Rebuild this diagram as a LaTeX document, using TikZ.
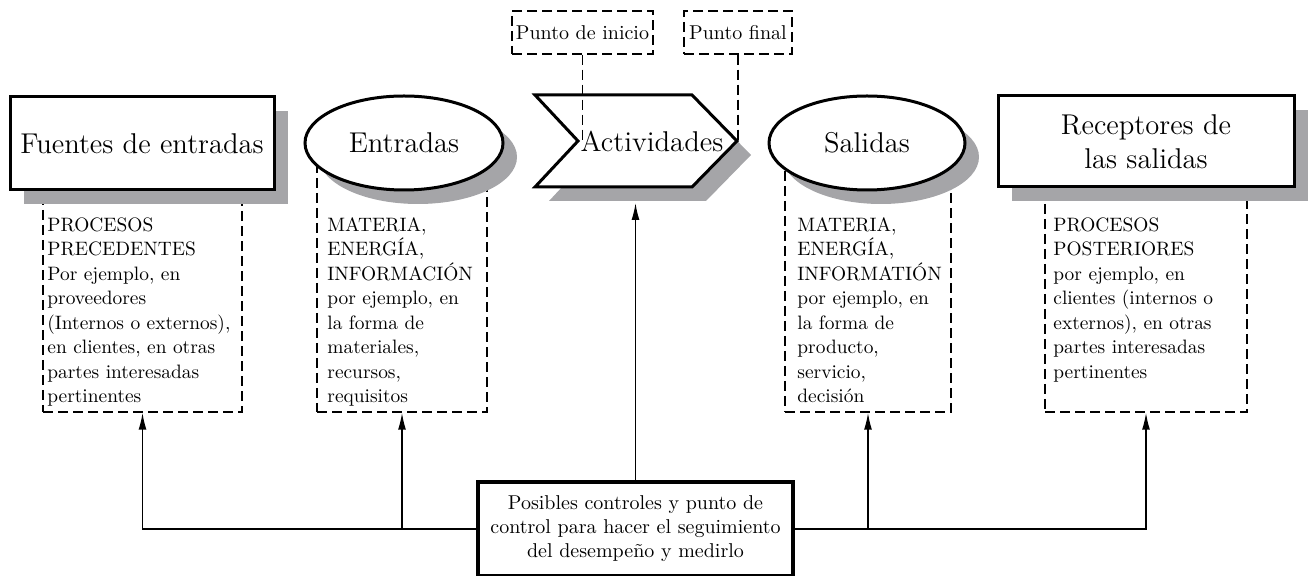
\documentclass[tikz,border=0pt]{standalone}
\usetikzlibrary{arrows.meta,shapes.geometric,shadows,fit}
\definecolor{sombra}{RGB}{165,165,168}

\begin{document}
\begin{tikzpicture}[x=0.5pt,y=-0.5pt,
    sombreada/.style={drop shadow={shadow xshift=7pt,shadow yshift=-7pt,opacity=1,fill=sombra}},
    titulo/.style={font=\fontsize{14.3}{17}\selectfont},
    caja/.style={rectangle,draw,line width=1.5pt,fill=white,sombreada,titulo,align=center},
    ovalo/.style={ellipse,draw,line width=1.5pt,fill=white,sombreada,titulo,inner sep=0pt},
    discontinua/.style={line width=0.75pt,dash pattern=on 5pt off 2.5pt},
    marco/.style={draw,discontinua,inner sep=0pt},
    texto/.style={font=\fontsize{9.7}{12.25}\selectfont,align=left,inner sep=0pt,anchor=north west},
    etiqueta/.style={draw,discontinua,font=\fontsize{10}{12}\selectfont,inner sep=0pt},
    linea/.style={line width=0.75pt},
    flecha/.style={linea,-{Latex[length=8.5pt,width=4pt]}}]

    \useasboundingbox (0,0) rectangle (1312,576);

    % Marcos discontinuos (van detras de las cajas)
    \node[marco,fit={(43,180) (242,412)}] (dfuentes) {};
    \node[marco,fit={(317,150) (487,412)}] (dentradas) {};
    \node[marco,fit={(785,150) (951,412)}] (dsalidas) {};
    \node[marco,fit={(1045,180) (1247,412)}] (dreceptores) {};

    % Textos de los marcos
    \node[texto] (tfuentes) at (47,217) {PROCESOS\\PRECEDENTES\\Por ejemplo, en\\proveedores\\(Internos o externos),\\en clientes, en otras\\partes interesadas\\pertinentes};
    \node[texto] (tentradas) at (327,217) {MATERIA,\\ENERGÍA,\\INFORMACIÓN\\por ejemplo, en\\la forma de\\materiales,\\recursos,\\requisitos};
    \node[texto] (tsalidas) at (797,217) {MATERIA,\\ENERGÍA,\\INFORMATIÓN\\por ejemplo, en\\la forma de\\producto,\\servicio,\\decisión};
    \node[texto] (treceptores) at (1053,217) {PROCESOS\\POSTERIORES\\por ejemplo, en\\clientes (internos o\\externos), en otras\\partes interesadas\\pertinentes};

    % Cajas y ovalos con sombra
    \node[caja,minimum width=132pt,minimum height=46.5pt] (fuentes) at (142,143.5) {Fuentes de entradas};
    \node[ovalo,minimum width=99pt,minimum height=47pt] (entradas) at (404,143) {Entradas};
    \node[ovalo,minimum width=98pt,minimum height=47pt] (salidas) at (867,143) {Salidas};
    \node[caja,minimum width=148pt,minimum height=45.5pt] (receptores) at (1146,141.5) {Receptores de\\las salidas};

    % Flecha de actividades
    \draw[line width=1.5pt,fill=white,sombreada] (535,95) -- (692,95) -- (737,141) -- (692,187) -- (535,187) -- (578,141) -- cycle;
    \coordinate (muesca) at (578,141);
    \coordinate (punta) at (737,141);
    \coordinate (actbase) at (636,203);
    \node[titulo] (actividades) at (652,141) {Actividades};

    % Punto de inicio y punto final
    \node[etiqueta,minimum width=70.5pt,minimum height=21.5pt] (pinicio) at (582.5,32.5) {Punto de inicio};
    \node[etiqueta,minimum width=54pt,minimum height=21.5pt] (pfinal) at (738,32.5) {Punto final};
    \draw[discontinua] (pinicio.south) -- (pinicio.south |- muesca);
    \draw[discontinua] (pfinal.south) -- (pfinal.south |- punta);

    % Controles y conexiones
    \node[draw,line width=1.75pt,fill=white,minimum width=157.5pt,minimum height=47pt,align=center,font=\fontsize{10}{12}\selectfont] (controles) at (635.5,529) {Posibles controles y punto de\\control para hacer el seguimiento\\del desempeño y medirlo};
    \draw[flecha] (controles.west) -| (dfuentes.south);
    \draw[flecha] (controles.west) -| (dentradas.south);
    \draw[flecha] (controles.east) -| (dsalidas.south);
    \draw[flecha] (controles.east) -| (dreceptores.south);
    \draw[flecha] (controles.north) -- (controles.north |- actbase);

\end{tikzpicture}
\end{document}
